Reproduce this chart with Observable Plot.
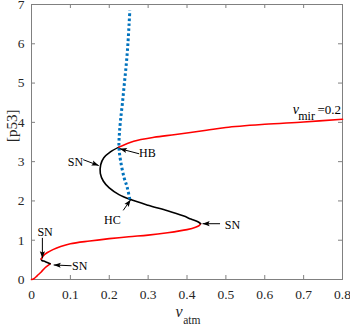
<!DOCTYPE html>
<html><head><meta charset="utf-8">
<script src="https://cdn.jsdelivr.net/npm/d3@7"></script>
<script src="https://cdn.jsdelivr.net/npm/@observablehq/plot@0.6"></script>
<style>body{margin:0;background:#fff} #chart svg, #chart svg text{font-family:"Liberation Serif","Times New Roman",serif}</style>
</head><body><div id="chart"></div>
<script>
// tick values
const xTicks = [0, 0.1, 0.2, 0.3, 0.4, 0.5, 0.6, 0.7, 0.8];
const yTicks = [0, 1, 2, 3, 4, 5, 6, 7];

// branches of the bifurcation diagram: [v_atm, p53]
const redLow = [[0,0],[0.006,0.02],[0.015,0.10],[0.025,0.19],[0.035,0.30],[0.048,0.40]];
const blackLow = [[0.048,0.40],[0.031,0.47],[0.027,0.48],[0.025,0.52]];
const redUp = [[0.025,0.52],[0.030,0.60],[0.040,0.68],[0.055,0.76],[0.075,0.84],[0.1,0.91],[0.15,0.98],[0.2,1.04],[0.25,1.09],[0.3,1.13],[0.35,1.19],[0.4,1.27],[0.422,1.33],[0.432,1.38],[0.435,1.42]];
const blackMid = [[0.435,1.42],[0.428,1.47],[0.41,1.54],[0.39,1.62],[0.35,1.75],[0.3,1.89],[0.253,2.04],[0.225,2.16],[0.2,2.33],[0.185,2.5],[0.177,2.7],[0.178,2.92],[0.186,3.1],[0.203,3.25],[0.225,3.37]];
const redTop = [[0.225,3.37],[0.263,3.52],[0.315,3.62],[0.371,3.69],[0.45,3.80],[0.5,3.87],[0.6,3.95],[0.7,4.01],[0.8,4.08]];
const blueOrbit = [[0.253,2.04],[0.246,2.35],[0.238,2.6],[0.229,3.03],[0.225,3.37],[0.226,3.7],[0.229,4.05],[0.234,4.5],[0.239,5.0],[0.244,5.5],[0.248,6.0],[0.251,6.5],[0.253,6.85]];

// annotations
const annLabels = ["SN", "HB", "HC", "SN", "SN", "SN"];
const annTextX = [0.113, 0.298, 0.208, 0.517, 0.035, 0.124];
const annTextY = [2.98, 3.21, 1.50, 1.39, 1.20, 0.34];
const arrowX1 = [0.133, 0.277, 0.236, 0.485, 0.028, 0.103];
const arrowY1 = [3.05, 3.20, 1.76, 1.42, 1.06, 0.35];
const arrowX2 = [0.173, 0.227, 0.255, 0.440, 0.028, 0.057];
const arrowY2 = [2.90, 3.33, 2.03, 1.42, 0.54, 0.37];

const curveLabelX = 0.672, curveLabelY = 4.22;

const W = 350, H = 325, mL = 31, mR = 8, mT = 4, mB = 46;
const innerW = W - mL - mR, innerH = H - mT - mB;
const axisGray = "#808080", textCol = "#262626";
const serif = "Liberation Serif, Times New Roman, serif";
const idx = annLabels.map((_, i) => i);
const px = d => d[0], py = d => d[1];

// arrowhead geometry (screen pixels per data unit)
const kx = innerW / 0.8, ky = innerH / 7;
const headBack = 4.5;
const heads = idx.map(i => {
  const sx = (arrowX2[i] - arrowX1[i]) * kx, sy = -(arrowY2[i] - arrowY1[i]) * ky;
  const len = Math.hypot(sx, sy), ux = sx / len, uy = sy / len;
  return {x: arrowX2[i] - ux * headBack / kx, y: arrowY2[i] + uy * headBack / ky, rot: Math.atan2(ux, -uy) * 180 / Math.PI};
});
const headSymbol = {draw(ctx) {ctx.moveTo(0, -4.5); ctx.lineTo(2.6, 2.6); ctx.lineTo(0, 1.2); ctx.lineTo(-2.6, 2.6); ctx.closePath();}};

const fmt = d => String(d);

const chart = Plot.plot({
  width: W, height: H,
  marginLeft: mL, marginRight: mR, marginTop: mT, marginBottom: mB,
  style: {background: "#fff"},
  x: {domain: [0, 0.8]},
  y: {domain: [0, 7]},
  marks: [
    Plot.axisX({ticks: xTicks, tickFormat: fmt, tickSize: 0, tickPadding: 10, fontSize: 13.5, fontFamily: serif, label: null, fill: textCol}),
    Plot.axisY({ticks: yTicks, tickFormat: fmt, tickSize: 0, tickPadding: 7, fontSize: 13.5, fontFamily: serif, label: null, fill: textCol}),
    Plot.tickX(xTicks, {x: d => d, stroke: axisGray, insetTop: innerH - 4}),
    Plot.tickX(xTicks, {x: d => d, stroke: axisGray, insetBottom: innerH - 4}),
    Plot.tickY(yTicks, {y: d => d, stroke: axisGray, insetRight: innerW - 4}),
    Plot.tickY(yTicks, {y: d => d, stroke: axisGray, insetLeft: innerW - 4}),
    Plot.frame({stroke: axisGray}),
    Plot.line(redLow, {x: px, y: py, stroke: "#ff0000", strokeWidth: 1.6, curve: "catmull-rom"}),
    Plot.line(blackLow, {x: px, y: py, stroke: "#000", strokeWidth: 1.6, curve: "catmull-rom"}),
    Plot.line(redUp, {x: px, y: py, stroke: "#ff0000", strokeWidth: 1.6, curve: "catmull-rom"}),
    Plot.line(blackMid, {x: px, y: py, stroke: "#000", strokeWidth: 1.6, curve: "catmull-rom"}),
    Plot.line(redTop, {x: px, y: py, stroke: "#ff0000", strokeWidth: 1.6, curve: "catmull-rom"}),
    Plot.line(blueOrbit, {x: px, y: py, stroke: "#0072BD", strokeWidth: 3, strokeDasharray: "2.6,2.4", strokeLinecap: "butt", curve: "catmull-rom"}),
    Plot.link(idx, {x1: i => arrowX1[i], y1: i => arrowY1[i], x2: i => arrowX2[i], y2: i => arrowY2[i], stroke: "#000", strokeWidth: 1}),
    Plot.dot(heads, {x: "x", y: "y", rotate: "rot", symbol: headSymbol, r: 3, fill: "#000", stroke: "none"}),
    Plot.text(idx, {x: i => annTextX[i], y: i => annTextY[i], text: i => annLabels[i], fontSize: 12, fontFamily: serif, fill: "#000"}),
    // curve label v_mir=0.2
    Plot.text(["v"], {x: () => curveLabelX, y: () => curveLabelY, text: d => d, textAnchor: "start", lineAnchor: "bottom", fontStyle: "italic", fontSize: 14, fontFamily: serif, fill: "#000"}),
    Plot.text(["mir"], {x: () => curveLabelX, y: () => curveLabelY, text: d => d, textAnchor: "start", lineAnchor: "bottom", dx: 5.5, dy: 6, fontSize: 12, fontFamily: serif, fill: "#000"}),
    Plot.text(["=0.2"], {x: () => curveLabelX, y: () => curveLabelY, text: d => d, textAnchor: "start", lineAnchor: "bottom", dx: 24.7, fontSize: 13, fontFamily: serif, fill: "#000"}),
    // axis labels
    Plot.text(["[p53]"], {frameAnchor: "left", text: d => d, dx: -19, rotate: -90, fontSize: 15, fontFamily: serif, fill: textCol}),
    Plot.text(["v"], {frameAnchor: "bottom", text: d => d, textAnchor: "start", lineAnchor: "bottom", dx: -11.5, dy: 37, fontStyle: "italic", fontSize: 16, fontFamily: serif, fill: textCol}),
    Plot.text(["atm"], {frameAnchor: "bottom", text: d => d, textAnchor: "start", lineAnchor: "bottom", dx: -3.8, dy: 44.3, fontSize: 11.5, fontFamily: serif, fill: textCol})
  ]
});
document.getElementById("chart").appendChild(chart);
</script></body></html>
